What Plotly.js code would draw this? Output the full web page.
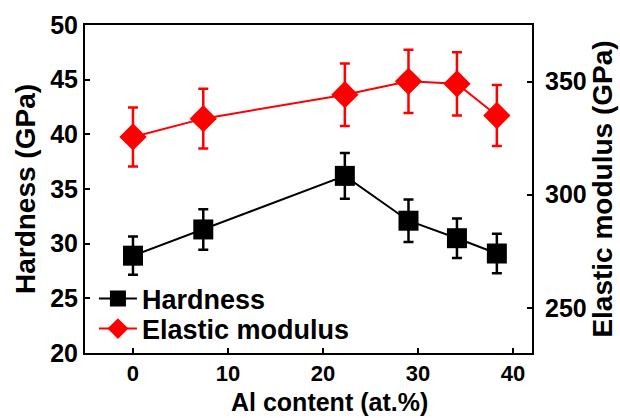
<!DOCTYPE html>
<html>
<head>
<meta charset="utf-8">
<script src="https://cdn.plot.ly/plotly-3.0.1.min.js"></script>
<style>html,body{margin:0;padding:0;background:#fff;}#chart{width:620px;height:418px;}</style>
</head>
<body>
<div id="chart"></div>
<script>
// Data
const alContent = [0, 7.4, 22.3, 29.0, 34.1, 38.3];
const hardness = [28.9, 31.3, 36.2, 32.1, 30.5, 29.1];
const hardnessErr = [1.75, 1.85, 2.1, 1.95, 1.8, 1.8];
const modulus = [325.5, 333.6, 344.2, 350.1, 349.0, 335.0];
const modulusErr = [13, 13.2, 13.8, 14, 14, 13.5];
const seriesNames = ['Hardness', 'Elastic modulus'];
const xTitle = 'Al content (at.%)';
const yTitle = 'Hardness (GPa)';
const y2Title = 'Elastic modulus (GPa)';

const FF = 'Liberation Sans, Arial, sans-serif';
const bold = (size) => ({family: FF, size: size, color: '#000', weight: 'bold'});

const traces = [
  {
    x: alContent, y: hardness, name: seriesNames[0], type: 'scatter', mode: 'lines+markers',
    line: {color: '#000000', width: 2},
    marker: {symbol: 'square', size: 20, color: '#000000'},
    error_y: {type: 'data', array: hardnessErr, visible: true, color: '#000000', thickness: 2.5, width: 5},
    yaxis: 'y', legend: 'legend'
  },
  {
    x: alContent, y: modulus, name: seriesNames[1], type: 'scatter', mode: 'lines+markers',
    line: {color: '#ff0000', width: 2},
    marker: {symbol: 'diamond', size: 21, color: '#ff0000'},
    error_y: {type: 'data', array: modulusErr, visible: true, color: '#ff0000', thickness: 2.5, width: 5},
    yaxis: 'y2', legend: 'legend2'
  }
];

const axisCommon = {
  showline: true, linecolor: '#000', linewidth: 2,
  ticks: 'inside', ticklen: 5, tickwidth: 2, tickcolor: '#000',
  showgrid: false, zeroline: false, tickfont: bold(25)
};

const legendCommon = {xanchor: 'left', yanchor: 'middle', bgcolor: 'rgba(0,0,0,0)',
  font: bold(27), itemwidth: 38, x: 0.02};

const layout = {
  width: 620, height: 418,
  margin: {l: 85, r: 88, t: 25, b: 65},
  paper_bgcolor: '#fff', plot_bgcolor: '#fff',
  font: bold(25),
  showlegend: true,
  legend: Object.assign({}, legendCommon, {y: (353 - 299) / 328}),
  legend2: Object.assign({}, legendCommon, {y: (353 - 329) / 328}),
  xaxis: Object.assign({}, axisCommon, {
    range: [-5.05, 42], tickvals: [0, 10, 20, 30, 40], mirror: true,
    tickfont: bold(22)
  }),
  yaxis: Object.assign({}, axisCommon, {
    range: [20, 50], dtick: 5, mirror: true,
    title: {text: yTitle, font: bold(28), standoff: 6}
  }),
  yaxis2: Object.assign({}, axisCommon, {
    range: [230, 375], tickvals: [250, 300, 350], overlaying: 'y', side: 'right',
    ticklabelstandoff: 6,
    title: {text: y2Title, font: bold(28), standoff: 2}
  }),
  annotations: [{
    text: xTitle, xref: 'paper', yref: 'paper', x: (329 - 85) / 447, y: (353 - 402) / 328,
    xanchor: 'center', yanchor: 'middle', showarrow: false, font: bold(25), borderpad: 0
  }]
};

Plotly.newPlot('chart', traces, layout, {displayModeBar: false, staticPlot: true});
</script>
</body>
</html>
